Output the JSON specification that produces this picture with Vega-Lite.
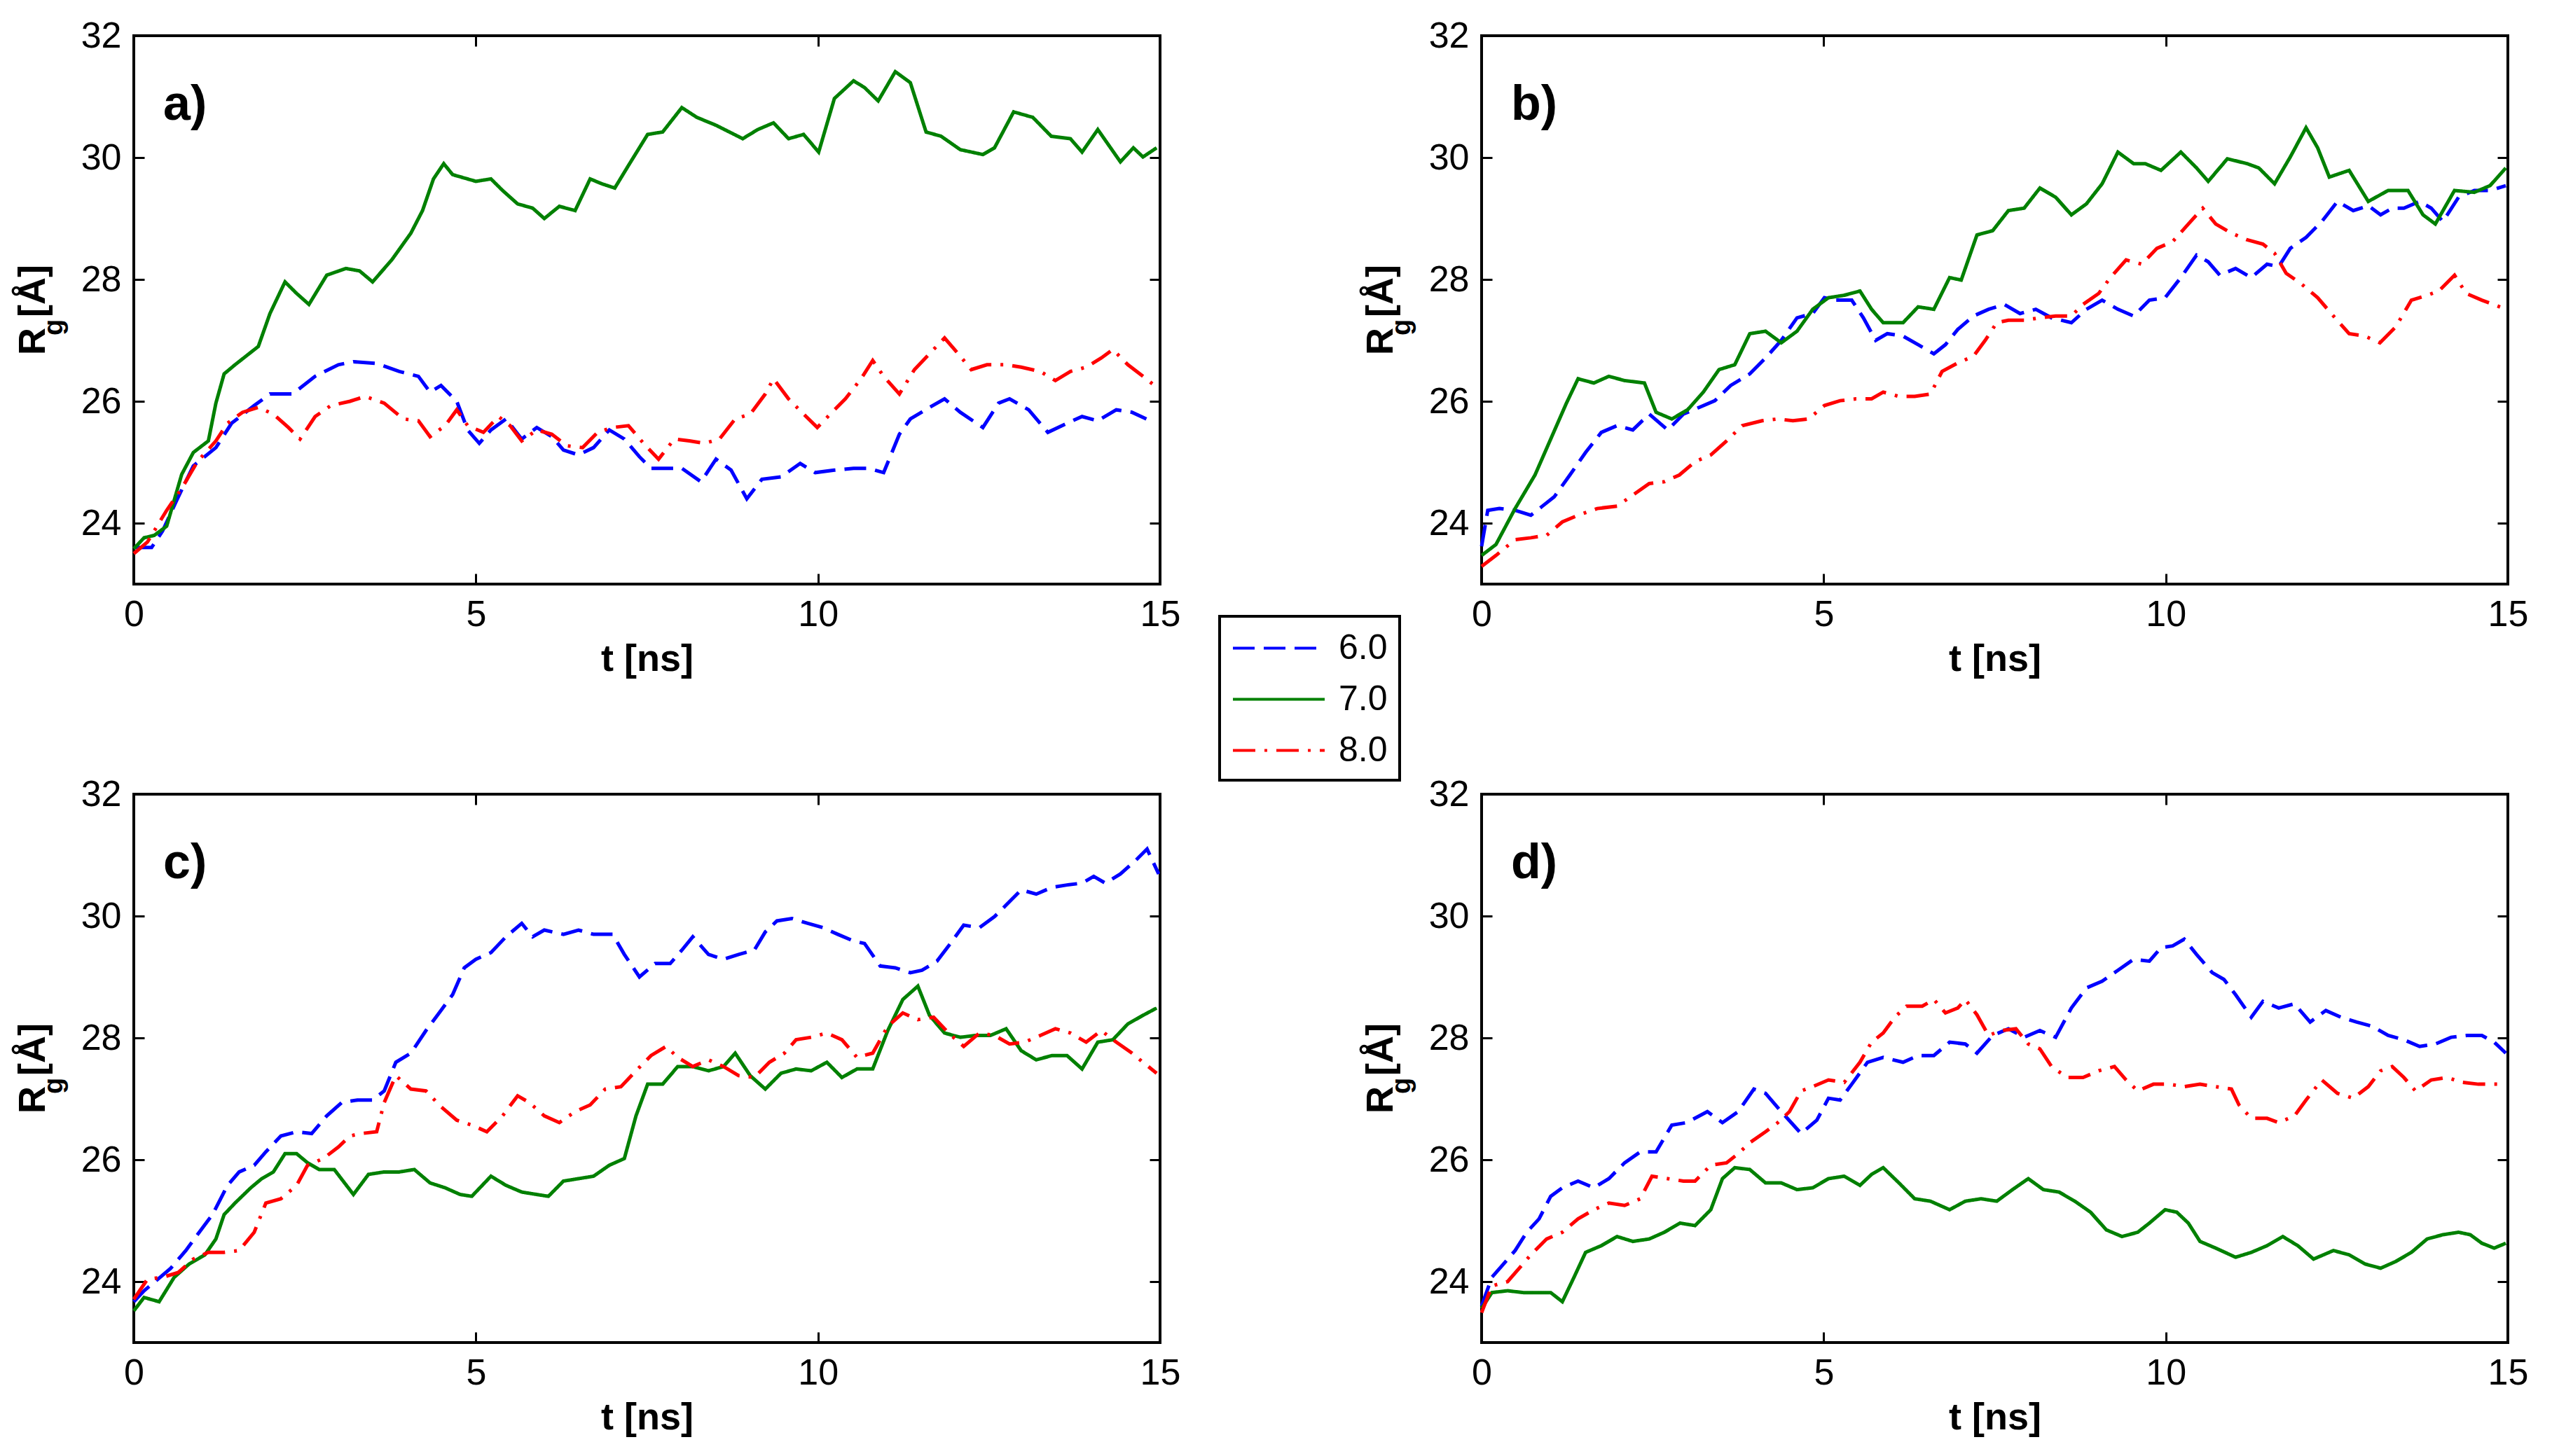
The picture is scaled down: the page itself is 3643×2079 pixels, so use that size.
{
  "$schema": "https://vega.github.io/schema/vega-lite/v6.json",
  "background": "white",
  "padding": {"left": 18, "top": 23, "right": 5, "bottom": 5},
  "data": {
    "values": [
      {"p":"a","s":"6.0","t":0,"r":23.6},{"p":"a","s":"6.0","t":0.26,"r":23.6},{"p":"a","s":"6.0","t":0.42,"r":23.87},{"p":"a","s":"6.0","t":0.65,"r":24.43},{"p":"a","s":"6.0","t":0.87,"r":24.94},{"p":"a","s":"6.0","t":1.2,"r":25.24},{"p":"a","s":"6.0","t":1.43,"r":25.64},{"p":"a","s":"6.0","t":1.76,"r":25.93},{"p":"a","s":"6.0","t":1.99,"r":26.12},{"p":"a","s":"6.0","t":2.32,"r":26.12},{"p":"a","s":"6.0","t":2.65,"r":26.41},{"p":"a","s":"6.0","t":2.99,"r":26.6},{"p":"a","s":"6.0","t":3.21,"r":26.65},{"p":"a","s":"6.0","t":3.55,"r":26.62},{"p":"a","s":"6.0","t":3.88,"r":26.49},{"p":"a","s":"6.0","t":4.16,"r":26.41},{"p":"a","s":"6.0","t":4.33,"r":26.15},{"p":"a","s":"6.0","t":4.49,"r":26.26},{"p":"a","s":"6.0","t":4.72,"r":26.0},{"p":"a","s":"6.0","t":4.88,"r":25.53},{"p":"a","s":"6.0","t":5.05,"r":25.31},{"p":"a","s":"6.0","t":5.22,"r":25.53},{"p":"a","s":"6.0","t":5.44,"r":25.71},{"p":"a","s":"6.0","t":5.67,"r":25.38},{"p":"a","s":"6.0","t":5.89,"r":25.57},{"p":"a","s":"6.0","t":6.11,"r":25.42},{"p":"a","s":"6.0","t":6.28,"r":25.2},{"p":"a","s":"6.0","t":6.5,"r":25.12},{"p":"a","s":"6.0","t":6.72,"r":25.24},{"p":"a","s":"6.0","t":6.95,"r":25.53},{"p":"a","s":"6.0","t":7.17,"r":25.38},{"p":"a","s":"6.0","t":7.39,"r":25.09},{"p":"a","s":"6.0","t":7.56,"r":24.9},{"p":"a","s":"6.0","t":7.78,"r":24.9},{"p":"a","s":"6.0","t":8.01,"r":24.9},{"p":"a","s":"6.0","t":8.29,"r":24.68},{"p":"a","s":"6.0","t":8.51,"r":25.05},{"p":"a","s":"6.0","t":8.73,"r":24.87},{"p":"a","s":"6.0","t":8.96,"r":24.4},{"p":"a","s":"6.0","t":9.18,"r":24.72},{"p":"a","s":"6.0","t":9.46,"r":24.76},{"p":"a","s":"6.0","t":9.74,"r":24.98},{"p":"a","s":"6.0","t":9.96,"r":24.83},{"p":"a","s":"6.0","t":10.24,"r":24.87},{"p":"a","s":"6.0","t":10.52,"r":24.9},{"p":"a","s":"6.0","t":10.74,"r":24.9},{"p":"a","s":"6.0","t":10.96,"r":24.83},{"p":"a","s":"6.0","t":11.19,"r":25.46},{"p":"a","s":"6.0","t":11.35,"r":25.71},{"p":"a","s":"6.0","t":11.63,"r":25.9},{"p":"a","s":"6.0","t":11.85,"r":26.04},{"p":"a","s":"6.0","t":12.08,"r":25.82},{"p":"a","s":"6.0","t":12.41,"r":25.57},{"p":"a","s":"6.0","t":12.64,"r":25.97},{"p":"a","s":"6.0","t":12.8,"r":26.04},{"p":"a","s":"6.0","t":13.08,"r":25.86},{"p":"a","s":"6.0","t":13.36,"r":25.49},{"p":"a","s":"6.0","t":13.64,"r":25.64},{"p":"a","s":"6.0","t":13.86,"r":25.75},{"p":"a","s":"6.0","t":14.09,"r":25.68},{"p":"a","s":"6.0","t":14.36,"r":25.86},{"p":"a","s":"6.0","t":14.59,"r":25.82},{"p":"a","s":"6.0","t":14.8,"r":25.71},

      {"p":"a","s":"7.0","t":0,"r":23.58},{"p":"a","s":"7.0","t":0.15,"r":23.76},{"p":"a","s":"7.0","t":0.3,"r":23.8},{"p":"a","s":"7.0","t":0.48,"r":23.95},{"p":"a","s":"7.0","t":0.7,"r":24.8},{"p":"a","s":"7.0","t":0.87,"r":25.16},{"p":"a","s":"7.0","t":1.09,"r":25.35},{"p":"a","s":"7.0","t":1.2,"r":25.97},{"p":"a","s":"7.0","t":1.32,"r":26.45},{"p":"a","s":"7.0","t":1.48,"r":26.6},{"p":"a","s":"7.0","t":1.82,"r":26.9},{"p":"a","s":"7.0","t":1.99,"r":27.44},{"p":"a","s":"7.0","t":2.21,"r":27.96},{"p":"a","s":"7.0","t":2.38,"r":27.77},{"p":"a","s":"7.0","t":2.56,"r":27.59},{"p":"a","s":"7.0","t":2.82,"r":28.07},{"p":"a","s":"7.0","t":3.1,"r":28.18},{"p":"a","s":"7.0","t":3.3,"r":28.14},{"p":"a","s":"7.0","t":3.49,"r":27.96},{"p":"a","s":"7.0","t":3.77,"r":28.32},{"p":"a","s":"7.0","t":4.05,"r":28.76},{"p":"a","s":"7.0","t":4.22,"r":29.13},{"p":"a","s":"7.0","t":4.38,"r":29.65},{"p":"a","s":"7.0","t":4.53,"r":29.9},{"p":"a","s":"7.0","t":4.66,"r":29.72},{"p":"a","s":"7.0","t":5.0,"r":29.61},{"p":"a","s":"7.0","t":5.22,"r":29.65},{"p":"a","s":"7.0","t":5.39,"r":29.46},{"p":"a","s":"7.0","t":5.61,"r":29.24},{"p":"a","s":"7.0","t":5.83,"r":29.17},{"p":"a","s":"7.0","t":6.0,"r":29.0},{"p":"a","s":"7.0","t":6.22,"r":29.2},{"p":"a","s":"7.0","t":6.45,"r":29.13},{"p":"a","s":"7.0","t":6.67,"r":29.65},{"p":"a","s":"7.0","t":6.84,"r":29.57},{"p":"a","s":"7.0","t":7.03,"r":29.5},{"p":"a","s":"7.0","t":7.23,"r":29.87},{"p":"a","s":"7.0","t":7.51,"r":30.38},{"p":"a","s":"7.0","t":7.73,"r":30.42},{"p":"a","s":"7.0","t":8.01,"r":30.82},{"p":"a","s":"7.0","t":8.23,"r":30.66},{"p":"a","s":"7.0","t":8.51,"r":30.53},{"p":"a","s":"7.0","t":8.9,"r":30.31},{"p":"a","s":"7.0","t":9.12,"r":30.46},{"p":"a","s":"7.0","t":9.35,"r":30.57},{"p":"a","s":"7.0","t":9.57,"r":30.31},{"p":"a","s":"7.0","t":9.79,"r":30.38},{"p":"a","s":"7.0","t":10.01,"r":30.09},{"p":"a","s":"7.0","t":10.24,"r":30.97},{"p":"a","s":"7.0","t":10.52,"r":31.26},{"p":"a","s":"7.0","t":10.68,"r":31.15},{"p":"a","s":"7.0","t":10.88,"r":30.93},{"p":"a","s":"7.0","t":11.13,"r":31.41},{"p":"a","s":"7.0","t":11.35,"r":31.23},{"p":"a","s":"7.0","t":11.58,"r":30.42},{"p":"a","s":"7.0","t":11.8,"r":30.35},{"p":"a","s":"7.0","t":12.08,"r":30.13},{"p":"a","s":"7.0","t":12.41,"r":30.05},{"p":"a","s":"7.0","t":12.58,"r":30.16},{"p":"a","s":"7.0","t":12.86,"r":30.75},{"p":"a","s":"7.0","t":13.14,"r":30.66},{"p":"a","s":"7.0","t":13.41,"r":30.35},{"p":"a","s":"7.0","t":13.69,"r":30.31},{"p":"a","s":"7.0","t":13.86,"r":30.09},{"p":"a","s":"7.0","t":14.09,"r":30.46},{"p":"a","s":"7.0","t":14.42,"r":29.93},{"p":"a","s":"7.0","t":14.61,"r":30.16},{"p":"a","s":"7.0","t":14.75,"r":30.01},{"p":"a","s":"7.0","t":14.95,"r":30.16},

      {"p":"a","s":"8.0","t":0,"r":23.5},{"p":"a","s":"8.0","t":0.2,"r":23.69},{"p":"a","s":"8.0","t":0.48,"r":24.21},{"p":"a","s":"8.0","t":0.7,"r":24.57},{"p":"a","s":"8.0","t":0.93,"r":25.01},{"p":"a","s":"8.0","t":1.2,"r":25.35},{"p":"a","s":"8.0","t":1.37,"r":25.64},{"p":"a","s":"8.0","t":1.59,"r":25.82},{"p":"a","s":"8.0","t":1.82,"r":25.9},{"p":"a","s":"8.0","t":2.04,"r":25.79},{"p":"a","s":"8.0","t":2.26,"r":25.57},{"p":"a","s":"8.0","t":2.43,"r":25.38},{"p":"a","s":"8.0","t":2.65,"r":25.75},{"p":"a","s":"8.0","t":2.88,"r":25.93},{"p":"a","s":"8.0","t":3.16,"r":26.0},{"p":"a","s":"8.0","t":3.38,"r":26.08},{"p":"a","s":"8.0","t":3.66,"r":25.97},{"p":"a","s":"8.0","t":3.94,"r":25.71},{"p":"a","s":"8.0","t":4.16,"r":25.68},{"p":"a","s":"8.0","t":4.33,"r":25.42},{"p":"a","s":"8.0","t":4.55,"r":25.6},{"p":"a","s":"8.0","t":4.72,"r":25.86},{"p":"a","s":"8.0","t":4.88,"r":25.6},{"p":"a","s":"8.0","t":5.11,"r":25.49},{"p":"a","s":"8.0","t":5.33,"r":25.75},{"p":"a","s":"8.0","t":5.5,"r":25.6},{"p":"a","s":"8.0","t":5.67,"r":25.35},{"p":"a","s":"8.0","t":5.89,"r":25.53},{"p":"a","s":"8.0","t":6.11,"r":25.46},{"p":"a","s":"8.0","t":6.33,"r":25.27},{"p":"a","s":"8.0","t":6.56,"r":25.24},{"p":"a","s":"8.0","t":6.78,"r":25.49},{"p":"a","s":"8.0","t":7.0,"r":25.57},{"p":"a","s":"8.0","t":7.23,"r":25.6},{"p":"a","s":"8.0","t":7.45,"r":25.31},{"p":"a","s":"8.0","t":7.67,"r":25.05},{"p":"a","s":"8.0","t":7.9,"r":25.38},{"p":"a","s":"8.0","t":8.12,"r":25.35},{"p":"a","s":"8.0","t":8.34,"r":25.31},{"p":"a","s":"8.0","t":8.56,"r":25.38},{"p":"a","s":"8.0","t":8.79,"r":25.71},{"p":"a","s":"8.0","t":9.01,"r":25.79},{"p":"a","s":"8.0","t":9.23,"r":26.12},{"p":"a","s":"8.0","t":9.35,"r":26.37},{"p":"a","s":"8.0","t":9.57,"r":26.04},{"p":"a","s":"8.0","t":9.79,"r":25.79},{"p":"a","s":"8.0","t":9.99,"r":25.57},{"p":"a","s":"8.0","t":10.18,"r":25.79},{"p":"a","s":"8.0","t":10.4,"r":26.04},{"p":"a","s":"8.0","t":10.63,"r":26.37},{"p":"a","s":"8.0","t":10.8,"r":26.67},{"p":"a","s":"8.0","t":10.96,"r":26.41},{"p":"a","s":"8.0","t":11.19,"r":26.12},{"p":"a","s":"8.0","t":11.41,"r":26.52},{"p":"a","s":"8.0","t":11.63,"r":26.78},{"p":"a","s":"8.0","t":11.85,"r":27.04},{"p":"a","s":"8.0","t":12.08,"r":26.74},{"p":"a","s":"8.0","t":12.24,"r":26.52},{"p":"a","s":"8.0","t":12.47,"r":26.6},{"p":"a","s":"8.0","t":12.75,"r":26.6},{"p":"a","s":"8.0","t":12.97,"r":26.56},{"p":"a","s":"8.0","t":13.25,"r":26.49},{"p":"a","s":"8.0","t":13.47,"r":26.34},{"p":"a","s":"8.0","t":13.69,"r":26.49},{"p":"a","s":"8.0","t":13.92,"r":26.56},{"p":"a","s":"8.0","t":14.14,"r":26.71},{"p":"a","s":"8.0","t":14.31,"r":26.85},{"p":"a","s":"8.0","t":14.53,"r":26.6},{"p":"a","s":"8.0","t":14.75,"r":26.41},{"p":"a","s":"8.0","t":14.95,"r":26.23},

      {"p":"b","s":"6.0","t":0,"r":23.62},{"p":"b","s":"6.0","t":0.09,"r":24.21},{"p":"b","s":"6.0","t":0.26,"r":24.24},{"p":"b","s":"6.0","t":0.49,"r":24.21},{"p":"b","s":"6.0","t":0.72,"r":24.13},{"p":"b","s":"6.0","t":0.89,"r":24.28},{"p":"b","s":"6.0","t":1.06,"r":24.43},{"p":"b","s":"6.0","t":1.29,"r":24.79},{"p":"b","s":"6.0","t":1.52,"r":25.16},{"p":"b","s":"6.0","t":1.75,"r":25.49},{"p":"b","s":"6.0","t":1.98,"r":25.6},{"p":"b","s":"6.0","t":2.21,"r":25.53},{"p":"b","s":"6.0","t":2.45,"r":25.79},{"p":"b","s":"6.0","t":2.72,"r":25.53},{"p":"b","s":"6.0","t":2.95,"r":25.79},{"p":"b","s":"6.0","t":3.18,"r":25.9},{"p":"b","s":"6.0","t":3.41,"r":26.01},{"p":"b","s":"6.0","t":3.64,"r":26.26},{"p":"b","s":"6.0","t":3.92,"r":26.45},{"p":"b","s":"6.0","t":4.15,"r":26.71},{"p":"b","s":"6.0","t":4.38,"r":27.0},{"p":"b","s":"6.0","t":4.61,"r":27.37},{"p":"b","s":"6.0","t":4.84,"r":27.44},{"p":"b","s":"6.0","t":5.01,"r":27.7},{"p":"b","s":"6.0","t":5.18,"r":27.66},{"p":"b","s":"6.0","t":5.41,"r":27.66},{"p":"b","s":"6.0","t":5.58,"r":27.37},{"p":"b","s":"6.0","t":5.76,"r":27.0},{"p":"b","s":"6.0","t":5.93,"r":27.11},{"p":"b","s":"6.0","t":6.16,"r":27.07},{"p":"b","s":"6.0","t":6.38,"r":26.93},{"p":"b","s":"6.0","t":6.61,"r":26.78},{"p":"b","s":"6.0","t":6.78,"r":26.93},{"p":"b","s":"6.0","t":6.96,"r":27.18},{"p":"b","s":"6.0","t":7.19,"r":27.4},{"p":"b","s":"6.0","t":7.41,"r":27.51},{"p":"b","s":"6.0","t":7.64,"r":27.59},{"p":"b","s":"6.0","t":7.87,"r":27.44},{"p":"b","s":"6.0","t":8.1,"r":27.51},{"p":"b","s":"6.0","t":8.33,"r":27.37},{"p":"b","s":"6.0","t":8.62,"r":27.29},{"p":"b","s":"6.0","t":8.84,"r":27.51},{"p":"b","s":"6.0","t":9.07,"r":27.66},{"p":"b","s":"6.0","t":9.3,"r":27.51},{"p":"b","s":"6.0","t":9.53,"r":27.4},{"p":"b","s":"6.0","t":9.76,"r":27.66},{"p":"b","s":"6.0","t":9.99,"r":27.7},{"p":"b","s":"6.0","t":10.22,"r":28.03},{"p":"b","s":"6.0","t":10.45,"r":28.4},{"p":"b","s":"6.0","t":10.62,"r":28.29},{"p":"b","s":"6.0","t":10.79,"r":28.07},{"p":"b","s":"6.0","t":11.02,"r":28.18},{"p":"b","s":"6.0","t":11.25,"r":28.03},{"p":"b","s":"6.0","t":11.48,"r":28.25},{"p":"b","s":"6.0","t":11.65,"r":28.21},{"p":"b","s":"6.0","t":11.82,"r":28.51},{"p":"b","s":"6.0","t":12.05,"r":28.69},{"p":"b","s":"6.0","t":12.28,"r":28.95},{"p":"b","s":"6.0","t":12.51,"r":29.28},{"p":"b","s":"6.0","t":12.74,"r":29.13},{"p":"b","s":"6.0","t":12.96,"r":29.21},{"p":"b","s":"6.0","t":13.14,"r":29.06},{"p":"b","s":"6.0","t":13.31,"r":29.17},{"p":"b","s":"6.0","t":13.48,"r":29.17},{"p":"b","s":"6.0","t":13.71,"r":29.28},{"p":"b","s":"6.0","t":13.88,"r":29.17},{"p":"b","s":"6.0","t":14.05,"r":28.95},{"p":"b","s":"6.0","t":14.28,"r":29.35},{"p":"b","s":"6.0","t":14.51,"r":29.46},{"p":"b","s":"6.0","t":14.74,"r":29.46},{"p":"b","s":"6.0","t":14.97,"r":29.54},

      {"p":"b","s":"7.0","t":0,"r":23.47},{"p":"b","s":"7.0","t":0.21,"r":23.65},{"p":"b","s":"7.0","t":0.49,"r":24.24},{"p":"b","s":"7.0","t":0.78,"r":24.79},{"p":"b","s":"7.0","t":1.01,"r":25.38},{"p":"b","s":"7.0","t":1.24,"r":25.97},{"p":"b","s":"7.0","t":1.41,"r":26.37},{"p":"b","s":"7.0","t":1.64,"r":26.3},{"p":"b","s":"7.0","t":1.86,"r":26.41},{"p":"b","s":"7.0","t":2.09,"r":26.34},{"p":"b","s":"7.0","t":2.38,"r":26.3},{"p":"b","s":"7.0","t":2.55,"r":25.82},{"p":"b","s":"7.0","t":2.78,"r":25.71},{"p":"b","s":"7.0","t":3.01,"r":25.86},{"p":"b","s":"7.0","t":3.24,"r":26.15},{"p":"b","s":"7.0","t":3.47,"r":26.52},{"p":"b","s":"7.0","t":3.7,"r":26.6},{"p":"b","s":"7.0","t":3.92,"r":27.11},{"p":"b","s":"7.0","t":4.15,"r":27.15},{"p":"b","s":"7.0","t":4.38,"r":26.96},{"p":"b","s":"7.0","t":4.61,"r":27.15},{"p":"b","s":"7.0","t":4.84,"r":27.51},{"p":"b","s":"7.0","t":5.07,"r":27.7},{"p":"b","s":"7.0","t":5.3,"r":27.74},{"p":"b","s":"7.0","t":5.53,"r":27.81},{"p":"b","s":"7.0","t":5.7,"r":27.51},{"p":"b","s":"7.0","t":5.87,"r":27.29},{"p":"b","s":"7.0","t":6.16,"r":27.29},{"p":"b","s":"7.0","t":6.38,"r":27.55},{"p":"b","s":"7.0","t":6.61,"r":27.51},{"p":"b","s":"7.0","t":6.84,"r":28.03},{"p":"b","s":"7.0","t":7.01,"r":27.99},{"p":"b","s":"7.0","t":7.24,"r":28.73},{"p":"b","s":"7.0","t":7.47,"r":28.8},{"p":"b","s":"7.0","t":7.7,"r":29.13},{"p":"b","s":"7.0","t":7.93,"r":29.17},{"p":"b","s":"7.0","t":8.16,"r":29.5},{"p":"b","s":"7.0","t":8.39,"r":29.35},{"p":"b","s":"7.0","t":8.62,"r":29.06},{"p":"b","s":"7.0","t":8.84,"r":29.24},{"p":"b","s":"7.0","t":9.07,"r":29.57},{"p":"b","s":"7.0","t":9.3,"r":30.09},{"p":"b","s":"7.0","t":9.53,"r":29.9},{"p":"b","s":"7.0","t":9.7,"r":29.9},{"p":"b","s":"7.0","t":9.93,"r":29.79},{"p":"b","s":"7.0","t":10.22,"r":30.09},{"p":"b","s":"7.0","t":10.45,"r":29.83},{"p":"b","s":"7.0","t":10.62,"r":29.61},{"p":"b","s":"7.0","t":10.9,"r":29.98},{"p":"b","s":"7.0","t":11.19,"r":29.9},{"p":"b","s":"7.0","t":11.36,"r":29.83},{"p":"b","s":"7.0","t":11.59,"r":29.57},{"p":"b","s":"7.0","t":11.82,"r":30.01},{"p":"b","s":"7.0","t":12.05,"r":30.49},{"p":"b","s":"7.0","t":12.22,"r":30.16},{"p":"b","s":"7.0","t":12.39,"r":29.68},{"p":"b","s":"7.0","t":12.68,"r":29.79},{"p":"b","s":"7.0","t":12.96,"r":29.28},{"p":"b","s":"7.0","t":13.25,"r":29.46},{"p":"b","s":"7.0","t":13.54,"r":29.46},{"p":"b","s":"7.0","t":13.76,"r":29.06},{"p":"b","s":"7.0","t":13.94,"r":28.91},{"p":"b","s":"7.0","t":14.22,"r":29.46},{"p":"b","s":"7.0","t":14.51,"r":29.43},{"p":"b","s":"7.0","t":14.74,"r":29.54},{"p":"b","s":"7.0","t":14.97,"r":29.83},

      {"p":"b","s":"8.0","t":0,"r":23.29},{"p":"b","s":"8.0","t":0.21,"r":23.47},{"p":"b","s":"8.0","t":0.49,"r":23.73},{"p":"b","s":"8.0","t":0.72,"r":23.76},{"p":"b","s":"8.0","t":0.95,"r":23.8},{"p":"b","s":"8.0","t":1.18,"r":24.02},{"p":"b","s":"8.0","t":1.41,"r":24.13},{"p":"b","s":"8.0","t":1.69,"r":24.24},{"p":"b","s":"8.0","t":1.98,"r":24.28},{"p":"b","s":"8.0","t":2.21,"r":24.46},{"p":"b","s":"8.0","t":2.45,"r":24.65},{"p":"b","s":"8.0","t":2.67,"r":24.68},{"p":"b","s":"8.0","t":2.89,"r":24.79},{"p":"b","s":"8.0","t":3.12,"r":25.01},{"p":"b","s":"8.0","t":3.35,"r":25.12},{"p":"b","s":"8.0","t":3.58,"r":25.35},{"p":"b","s":"8.0","t":3.81,"r":25.6},{"p":"b","s":"8.0","t":4.1,"r":25.68},{"p":"b","s":"8.0","t":4.33,"r":25.71},{"p":"b","s":"8.0","t":4.55,"r":25.68},{"p":"b","s":"8.0","t":4.78,"r":25.71},{"p":"b","s":"8.0","t":5.01,"r":25.93},{"p":"b","s":"8.0","t":5.24,"r":26.01},{"p":"b","s":"8.0","t":5.47,"r":26.04},{"p":"b","s":"8.0","t":5.7,"r":26.04},{"p":"b","s":"8.0","t":5.87,"r":26.15},{"p":"b","s":"8.0","t":6.1,"r":26.08},{"p":"b","s":"8.0","t":6.33,"r":26.08},{"p":"b","s":"8.0","t":6.56,"r":26.12},{"p":"b","s":"8.0","t":6.73,"r":26.49},{"p":"b","s":"8.0","t":6.96,"r":26.63},{"p":"b","s":"8.0","t":7.19,"r":26.74},{"p":"b","s":"8.0","t":7.36,"r":27.0},{"p":"b","s":"8.0","t":7.53,"r":27.29},{"p":"b","s":"8.0","t":7.7,"r":27.33},{"p":"b","s":"8.0","t":7.93,"r":27.33},{"p":"b","s":"8.0","t":8.16,"r":27.37},{"p":"b","s":"8.0","t":8.39,"r":27.4},{"p":"b","s":"8.0","t":8.62,"r":27.4},{"p":"b","s":"8.0","t":8.79,"r":27.59},{"p":"b","s":"8.0","t":9.02,"r":27.77},{"p":"b","s":"8.0","t":9.19,"r":28.03},{"p":"b","s":"8.0","t":9.42,"r":28.32},{"p":"b","s":"8.0","t":9.65,"r":28.25},{"p":"b","s":"8.0","t":9.87,"r":28.51},{"p":"b","s":"8.0","t":10.1,"r":28.62},{"p":"b","s":"8.0","t":10.33,"r":28.91},{"p":"b","s":"8.0","t":10.54,"r":29.17},{"p":"b","s":"8.0","t":10.73,"r":28.91},{"p":"b","s":"8.0","t":10.96,"r":28.76},{"p":"b","s":"8.0","t":11.19,"r":28.65},{"p":"b","s":"8.0","t":11.42,"r":28.58},{"p":"b","s":"8.0","t":11.59,"r":28.43},{"p":"b","s":"8.0","t":11.76,"r":28.1},{"p":"b","s":"8.0","t":11.99,"r":27.92},{"p":"b","s":"8.0","t":12.22,"r":27.7},{"p":"b","s":"8.0","t":12.45,"r":27.4},{"p":"b","s":"8.0","t":12.68,"r":27.11},{"p":"b","s":"8.0","t":12.91,"r":27.07},{"p":"b","s":"8.0","t":13.13,"r":26.96},{"p":"b","s":"8.0","t":13.36,"r":27.22},{"p":"b","s":"8.0","t":13.59,"r":27.66},{"p":"b","s":"8.0","t":13.82,"r":27.74},{"p":"b","s":"8.0","t":13.99,"r":27.81},{"p":"b","s":"8.0","t":14.22,"r":28.07},{"p":"b","s":"8.0","t":14.39,"r":27.77},{"p":"b","s":"8.0","t":14.62,"r":27.66},{"p":"b","s":"8.0","t":14.79,"r":27.59},{"p":"b","s":"8.0","t":14.97,"r":27.51},

      {"p":"c","s":"6.0","t":0,"r":23.67},{"p":"c","s":"6.0","t":0.15,"r":23.85},{"p":"c","s":"6.0","t":0.31,"r":24.0},{"p":"c","s":"6.0","t":0.54,"r":24.22},{"p":"c","s":"6.0","t":0.76,"r":24.51},{"p":"c","s":"6.0","t":0.93,"r":24.77},{"p":"c","s":"6.0","t":1.15,"r":25.1},{"p":"c","s":"6.0","t":1.37,"r":25.58},{"p":"c","s":"6.0","t":1.54,"r":25.8},{"p":"c","s":"6.0","t":1.76,"r":25.91},{"p":"c","s":"6.0","t":1.93,"r":26.13},{"p":"c","s":"6.0","t":2.15,"r":26.39},{"p":"c","s":"6.0","t":2.38,"r":26.46},{"p":"c","s":"6.0","t":2.6,"r":26.43},{"p":"c","s":"6.0","t":2.82,"r":26.72},{"p":"c","s":"6.0","t":3.04,"r":26.94},{"p":"c","s":"6.0","t":3.27,"r":26.98},{"p":"c","s":"6.0","t":3.49,"r":26.98},{"p":"c","s":"6.0","t":3.66,"r":27.13},{"p":"c","s":"6.0","t":3.83,"r":27.6},{"p":"c","s":"6.0","t":4.05,"r":27.75},{"p":"c","s":"6.0","t":4.27,"r":28.12},{"p":"c","s":"6.0","t":4.49,"r":28.45},{"p":"c","s":"6.0","t":4.66,"r":28.71},{"p":"c","s":"6.0","t":4.83,"r":29.15},{"p":"c","s":"6.0","t":5.0,"r":29.29},{"p":"c","s":"6.0","t":5.22,"r":29.4},{"p":"c","s":"6.0","t":5.44,"r":29.66},{"p":"c","s":"6.0","t":5.67,"r":29.88},{"p":"c","s":"6.0","t":5.83,"r":29.66},{"p":"c","s":"6.0","t":6.0,"r":29.77},{"p":"c","s":"6.0","t":6.28,"r":29.7},{"p":"c","s":"6.0","t":6.5,"r":29.77},{"p":"c","s":"6.0","t":6.72,"r":29.7},{"p":"c","s":"6.0","t":7.0,"r":29.7},{"p":"c","s":"6.0","t":7.17,"r":29.37},{"p":"c","s":"6.0","t":7.39,"r":29.0},{"p":"c","s":"6.0","t":7.62,"r":29.22},{"p":"c","s":"6.0","t":7.84,"r":29.22},{"p":"c","s":"6.0","t":8.01,"r":29.44},{"p":"c","s":"6.0","t":8.17,"r":29.66},{"p":"c","s":"6.0","t":8.4,"r":29.37},{"p":"c","s":"6.0","t":8.62,"r":29.29},{"p":"c","s":"6.0","t":8.84,"r":29.37},{"p":"c","s":"6.0","t":9.07,"r":29.44},{"p":"c","s":"6.0","t":9.23,"r":29.74},{"p":"c","s":"6.0","t":9.4,"r":29.92},{"p":"c","s":"6.0","t":9.62,"r":29.96},{"p":"c","s":"6.0","t":9.85,"r":29.88},{"p":"c","s":"6.0","t":10.07,"r":29.81},{"p":"c","s":"6.0","t":10.29,"r":29.7},{"p":"c","s":"6.0","t":10.52,"r":29.59},{"p":"c","s":"6.0","t":10.68,"r":29.55},{"p":"c","s":"6.0","t":10.91,"r":29.18},{"p":"c","s":"6.0","t":11.13,"r":29.15},{"p":"c","s":"6.0","t":11.35,"r":29.07},{"p":"c","s":"6.0","t":11.52,"r":29.11},{"p":"c","s":"6.0","t":11.74,"r":29.26},{"p":"c","s":"6.0","t":11.91,"r":29.51},{"p":"c","s":"6.0","t":12.13,"r":29.85},{"p":"c","s":"6.0","t":12.36,"r":29.81},{"p":"c","s":"6.0","t":12.58,"r":29.99},{"p":"c","s":"6.0","t":12.75,"r":30.18},{"p":"c","s":"6.0","t":12.97,"r":30.43},{"p":"c","s":"6.0","t":13.19,"r":30.36},{"p":"c","s":"6.0","t":13.42,"r":30.47},{"p":"c","s":"6.0","t":13.64,"r":30.51},{"p":"c","s":"6.0","t":13.86,"r":30.54},{"p":"c","s":"6.0","t":14.03,"r":30.65},{"p":"c","s":"6.0","t":14.2,"r":30.54},{"p":"c","s":"6.0","t":14.42,"r":30.69},{"p":"c","s":"6.0","t":14.64,"r":30.91},{"p":"c","s":"6.0","t":14.81,"r":31.1},{"p":"c","s":"6.0","t":14.98,"r":30.69},

      {"p":"c","s":"7.0","t":0,"r":23.52},{"p":"c","s":"7.0","t":0.15,"r":23.74},{"p":"c","s":"7.0","t":0.37,"r":23.67},{"p":"c","s":"7.0","t":0.59,"r":24.07},{"p":"c","s":"7.0","t":0.81,"r":24.29},{"p":"c","s":"7.0","t":1.04,"r":24.44},{"p":"c","s":"7.0","t":1.2,"r":24.7},{"p":"c","s":"7.0","t":1.32,"r":25.1},{"p":"c","s":"7.0","t":1.48,"r":25.29},{"p":"c","s":"7.0","t":1.71,"r":25.54},{"p":"c","s":"7.0","t":1.87,"r":25.69},{"p":"c","s":"7.0","t":2.04,"r":25.8},{"p":"c","s":"7.0","t":2.21,"r":26.1},{"p":"c","s":"7.0","t":2.38,"r":26.1},{"p":"c","s":"7.0","t":2.54,"r":25.95},{"p":"c","s":"7.0","t":2.71,"r":25.84},{"p":"c","s":"7.0","t":2.93,"r":25.84},{"p":"c","s":"7.0","t":3.21,"r":25.43},{"p":"c","s":"7.0","t":3.43,"r":25.76},{"p":"c","s":"7.0","t":3.66,"r":25.8},{"p":"c","s":"7.0","t":3.88,"r":25.8},{"p":"c","s":"7.0","t":4.1,"r":25.84},{"p":"c","s":"7.0","t":4.33,"r":25.62},{"p":"c","s":"7.0","t":4.55,"r":25.54},{"p":"c","s":"7.0","t":4.77,"r":25.43},{"p":"c","s":"7.0","t":4.94,"r":25.4},{"p":"c","s":"7.0","t":5.22,"r":25.73},{"p":"c","s":"7.0","t":5.44,"r":25.58},{"p":"c","s":"7.0","t":5.67,"r":25.47},{"p":"c","s":"7.0","t":5.89,"r":25.43},{"p":"c","s":"7.0","t":6.06,"r":25.4},{"p":"c","s":"7.0","t":6.28,"r":25.65},{"p":"c","s":"7.0","t":6.5,"r":25.69},{"p":"c","s":"7.0","t":6.72,"r":25.73},{"p":"c","s":"7.0","t":6.95,"r":25.91},{"p":"c","s":"7.0","t":7.17,"r":26.02},{"p":"c","s":"7.0","t":7.34,"r":26.72},{"p":"c","s":"7.0","t":7.51,"r":27.24},{"p":"c","s":"7.0","t":7.73,"r":27.24},{"p":"c","s":"7.0","t":7.95,"r":27.53},{"p":"c","s":"7.0","t":8.17,"r":27.53},{"p":"c","s":"7.0","t":8.4,"r":27.46},{"p":"c","s":"7.0","t":8.62,"r":27.53},{"p":"c","s":"7.0","t":8.79,"r":27.75},{"p":"c","s":"7.0","t":9.01,"r":27.38},{"p":"c","s":"7.0","t":9.23,"r":27.16},{"p":"c","s":"7.0","t":9.46,"r":27.42},{"p":"c","s":"7.0","t":9.68,"r":27.49},{"p":"c","s":"7.0","t":9.9,"r":27.46},{"p":"c","s":"7.0","t":10.13,"r":27.6},{"p":"c","s":"7.0","t":10.35,"r":27.35},{"p":"c","s":"7.0","t":10.57,"r":27.49},{"p":"c","s":"7.0","t":10.8,"r":27.49},{"p":"c","s":"7.0","t":11.02,"r":28.12},{"p":"c","s":"7.0","t":11.24,"r":28.63},{"p":"c","s":"7.0","t":11.46,"r":28.85},{"p":"c","s":"7.0","t":11.63,"r":28.37},{"p":"c","s":"7.0","t":11.85,"r":28.08},{"p":"c","s":"7.0","t":12.08,"r":28.01},{"p":"c","s":"7.0","t":12.3,"r":28.04},{"p":"c","s":"7.0","t":12.52,"r":28.04},{"p":"c","s":"7.0","t":12.75,"r":28.15},{"p":"c","s":"7.0","t":12.97,"r":27.79},{"p":"c","s":"7.0","t":13.19,"r":27.64},{"p":"c","s":"7.0","t":13.42,"r":27.71},{"p":"c","s":"7.0","t":13.64,"r":27.71},{"p":"c","s":"7.0","t":13.86,"r":27.49},{"p":"c","s":"7.0","t":14.09,"r":27.93},{"p":"c","s":"7.0","t":14.31,"r":27.97},{"p":"c","s":"7.0","t":14.53,"r":28.23},{"p":"c","s":"7.0","t":14.75,"r":28.37},{"p":"c","s":"7.0","t":14.95,"r":28.49},

      {"p":"c","s":"8.0","t":0,"r":23.71},{"p":"c","s":"8.0","t":0.2,"r":24.04},{"p":"c","s":"8.0","t":0.42,"r":24.07},{"p":"c","s":"8.0","t":0.65,"r":24.15},{"p":"c","s":"8.0","t":0.87,"r":24.37},{"p":"c","s":"8.0","t":1.09,"r":24.48},{"p":"c","s":"8.0","t":1.32,"r":24.48},{"p":"c","s":"8.0","t":1.54,"r":24.51},{"p":"c","s":"8.0","t":1.76,"r":24.81},{"p":"c","s":"8.0","t":1.93,"r":25.29},{"p":"c","s":"8.0","t":2.15,"r":25.36},{"p":"c","s":"8.0","t":2.38,"r":25.58},{"p":"c","s":"8.0","t":2.54,"r":25.91},{"p":"c","s":"8.0","t":2.77,"r":26.02},{"p":"c","s":"8.0","t":2.99,"r":26.21},{"p":"c","s":"8.0","t":3.16,"r":26.39},{"p":"c","s":"8.0","t":3.32,"r":26.43},{"p":"c","s":"8.0","t":3.55,"r":26.46},{"p":"c","s":"8.0","t":3.66,"r":26.94},{"p":"c","s":"8.0","t":3.83,"r":27.38},{"p":"c","s":"8.0","t":4.05,"r":27.16},{"p":"c","s":"8.0","t":4.27,"r":27.13},{"p":"c","s":"8.0","t":4.49,"r":26.87},{"p":"c","s":"8.0","t":4.72,"r":26.65},{"p":"c","s":"8.0","t":4.94,"r":26.57},{"p":"c","s":"8.0","t":5.16,"r":26.46},{"p":"c","s":"8.0","t":5.39,"r":26.72},{"p":"c","s":"8.0","t":5.61,"r":27.05},{"p":"c","s":"8.0","t":5.78,"r":26.94},{"p":"c","s":"8.0","t":6.0,"r":26.72},{"p":"c","s":"8.0","t":6.22,"r":26.61},{"p":"c","s":"8.0","t":6.45,"r":26.79},{"p":"c","s":"8.0","t":6.67,"r":26.9},{"p":"c","s":"8.0","t":6.89,"r":27.16},{"p":"c","s":"8.0","t":7.12,"r":27.2},{"p":"c","s":"8.0","t":7.34,"r":27.46},{"p":"c","s":"8.0","t":7.56,"r":27.71},{"p":"c","s":"8.0","t":7.78,"r":27.86},{"p":"c","s":"8.0","t":7.95,"r":27.68},{"p":"c","s":"8.0","t":8.17,"r":27.53},{"p":"c","s":"8.0","t":8.4,"r":27.64},{"p":"c","s":"8.0","t":8.62,"r":27.53},{"p":"c","s":"8.0","t":8.84,"r":27.38},{"p":"c","s":"8.0","t":9.07,"r":27.35},{"p":"c","s":"8.0","t":9.29,"r":27.6},{"p":"c","s":"8.0","t":9.51,"r":27.75},{"p":"c","s":"8.0","t":9.68,"r":27.97},{"p":"c","s":"8.0","t":9.9,"r":28.01},{"p":"c","s":"8.0","t":10.13,"r":28.08},{"p":"c","s":"8.0","t":10.35,"r":27.97},{"p":"c","s":"8.0","t":10.57,"r":27.68},{"p":"c","s":"8.0","t":10.8,"r":27.75},{"p":"c","s":"8.0","t":11.02,"r":28.19},{"p":"c","s":"8.0","t":11.24,"r":28.41},{"p":"c","s":"8.0","t":11.46,"r":28.3},{"p":"c","s":"8.0","t":11.69,"r":28.34},{"p":"c","s":"8.0","t":11.91,"r":28.08},{"p":"c","s":"8.0","t":12.13,"r":27.86},{"p":"c","s":"8.0","t":12.36,"r":28.08},{"p":"c","s":"8.0","t":12.58,"r":28.04},{"p":"c","s":"8.0","t":12.8,"r":27.9},{"p":"c","s":"8.0","t":13.02,"r":27.93},{"p":"c","s":"8.0","t":13.25,"r":28.04},{"p":"c","s":"8.0","t":13.47,"r":28.15},{"p":"c","s":"8.0","t":13.69,"r":28.08},{"p":"c","s":"8.0","t":13.92,"r":27.93},{"p":"c","s":"8.0","t":14.14,"r":28.12},{"p":"c","s":"8.0","t":14.36,"r":27.93},{"p":"c","s":"8.0","t":14.59,"r":27.75},{"p":"c","s":"8.0","t":14.75,"r":27.6},{"p":"c","s":"8.0","t":14.95,"r":27.42},

      {"p":"d","s":"6.0","t":0,"r":23.6},{"p":"d","s":"6.0","t":0.15,"r":24.07},{"p":"d","s":"6.0","t":0.32,"r":24.29},{"p":"d","s":"6.0","t":0.49,"r":24.51},{"p":"d","s":"6.0","t":0.66,"r":24.81},{"p":"d","s":"6.0","t":0.84,"r":25.03},{"p":"d","s":"6.0","t":1.01,"r":25.4},{"p":"d","s":"6.0","t":1.18,"r":25.54},{"p":"d","s":"6.0","t":1.41,"r":25.65},{"p":"d","s":"6.0","t":1.64,"r":25.54},{"p":"d","s":"6.0","t":1.86,"r":25.69},{"p":"d","s":"6.0","t":2.09,"r":25.95},{"p":"d","s":"6.0","t":2.32,"r":26.13},{"p":"d","s":"6.0","t":2.55,"r":26.13},{"p":"d","s":"6.0","t":2.78,"r":26.57},{"p":"d","s":"6.0","t":3.0,"r":26.61},{"p":"d","s":"6.0","t":3.3,"r":26.79},{"p":"d","s":"6.0","t":3.52,"r":26.61},{"p":"d","s":"6.0","t":3.75,"r":26.79},{"p":"d","s":"6.0","t":3.98,"r":27.16},{"p":"d","s":"6.0","t":4.15,"r":27.09},{"p":"d","s":"6.0","t":4.38,"r":26.79},{"p":"d","s":"6.0","t":4.67,"r":26.43},{"p":"d","s":"6.0","t":4.9,"r":26.65},{"p":"d","s":"6.0","t":5.07,"r":27.01},{"p":"d","s":"6.0","t":5.24,"r":26.98},{"p":"d","s":"6.0","t":5.41,"r":27.24},{"p":"d","s":"6.0","t":5.64,"r":27.6},{"p":"d","s":"6.0","t":5.87,"r":27.68},{"p":"d","s":"6.0","t":6.16,"r":27.6},{"p":"d","s":"6.0","t":6.38,"r":27.71},{"p":"d","s":"6.0","t":6.61,"r":27.71},{"p":"d","s":"6.0","t":6.84,"r":27.93},{"p":"d","s":"6.0","t":7.07,"r":27.9},{"p":"d","s":"6.0","t":7.24,"r":27.75},{"p":"d","s":"6.0","t":7.47,"r":28.04},{"p":"d","s":"6.0","t":7.7,"r":28.15},{"p":"d","s":"6.0","t":7.93,"r":28.01},{"p":"d","s":"6.0","t":8.16,"r":28.12},{"p":"d","s":"6.0","t":8.39,"r":28.01},{"p":"d","s":"6.0","t":8.62,"r":28.49},{"p":"d","s":"6.0","t":8.84,"r":28.82},{"p":"d","s":"6.0","t":9.07,"r":28.93},{"p":"d","s":"6.0","t":9.3,"r":29.11},{"p":"d","s":"6.0","t":9.53,"r":29.29},{"p":"d","s":"6.0","t":9.76,"r":29.26},{"p":"d","s":"6.0","t":9.93,"r":29.48},{"p":"d","s":"6.0","t":10.1,"r":29.51},{"p":"d","s":"6.0","t":10.27,"r":29.62},{"p":"d","s":"6.0","t":10.45,"r":29.37},{"p":"d","s":"6.0","t":10.68,"r":29.07},{"p":"d","s":"6.0","t":10.85,"r":28.96},{"p":"d","s":"6.0","t":11.02,"r":28.71},{"p":"d","s":"6.0","t":11.25,"r":28.34},{"p":"d","s":"6.0","t":11.42,"r":28.6},{"p":"d","s":"6.0","t":11.65,"r":28.49},{"p":"d","s":"6.0","t":11.88,"r":28.56},{"p":"d","s":"6.0","t":12.11,"r":28.26},{"p":"d","s":"6.0","t":12.34,"r":28.45},{"p":"d","s":"6.0","t":12.56,"r":28.34},{"p":"d","s":"6.0","t":12.79,"r":28.26},{"p":"d","s":"6.0","t":13.02,"r":28.19},{"p":"d","s":"6.0","t":13.25,"r":28.04},{"p":"d","s":"6.0","t":13.48,"r":27.97},{"p":"d","s":"6.0","t":13.71,"r":27.86},{"p":"d","s":"6.0","t":13.94,"r":27.9},{"p":"d","s":"6.0","t":14.17,"r":28.01},{"p":"d","s":"6.0","t":14.4,"r":28.04},{"p":"d","s":"6.0","t":14.62,"r":28.04},{"p":"d","s":"6.0","t":14.8,"r":27.93},{"p":"d","s":"6.0","t":14.97,"r":27.75},

      {"p":"d","s":"7.0","t":0,"r":23.56},{"p":"d","s":"7.0","t":0.15,"r":23.82},{"p":"d","s":"7.0","t":0.38,"r":23.85},{"p":"d","s":"7.0","t":0.61,"r":23.82},{"p":"d","s":"7.0","t":0.84,"r":23.82},{"p":"d","s":"7.0","t":1.01,"r":23.82},{"p":"d","s":"7.0","t":1.18,"r":23.67},{"p":"d","s":"7.0","t":1.35,"r":24.07},{"p":"d","s":"7.0","t":1.52,"r":24.48},{"p":"d","s":"7.0","t":1.75,"r":24.59},{"p":"d","s":"7.0","t":1.98,"r":24.74},{"p":"d","s":"7.0","t":2.21,"r":24.66},{"p":"d","s":"7.0","t":2.45,"r":24.7},{"p":"d","s":"7.0","t":2.67,"r":24.81},{"p":"d","s":"7.0","t":2.9,"r":24.96},{"p":"d","s":"7.0","t":3.12,"r":24.92},{"p":"d","s":"7.0","t":3.35,"r":25.18},{"p":"d","s":"7.0","t":3.52,"r":25.69},{"p":"d","s":"7.0","t":3.7,"r":25.87},{"p":"d","s":"7.0","t":3.92,"r":25.84},{"p":"d","s":"7.0","t":4.15,"r":25.62},{"p":"d","s":"7.0","t":4.38,"r":25.62},{"p":"d","s":"7.0","t":4.61,"r":25.51},{"p":"d","s":"7.0","t":4.84,"r":25.54},{"p":"d","s":"7.0","t":5.07,"r":25.69},{"p":"d","s":"7.0","t":5.3,"r":25.73},{"p":"d","s":"7.0","t":5.53,"r":25.58},{"p":"d","s":"7.0","t":5.7,"r":25.76},{"p":"d","s":"7.0","t":5.87,"r":25.87},{"p":"d","s":"7.0","t":6.1,"r":25.62},{"p":"d","s":"7.0","t":6.33,"r":25.36},{"p":"d","s":"7.0","t":6.56,"r":25.32},{"p":"d","s":"7.0","t":6.84,"r":25.18},{"p":"d","s":"7.0","t":7.07,"r":25.32},{"p":"d","s":"7.0","t":7.3,"r":25.36},{"p":"d","s":"7.0","t":7.53,"r":25.32},{"p":"d","s":"7.0","t":7.76,"r":25.51},{"p":"d","s":"7.0","t":7.99,"r":25.69},{"p":"d","s":"7.0","t":8.21,"r":25.51},{"p":"d","s":"7.0","t":8.44,"r":25.47},{"p":"d","s":"7.0","t":8.67,"r":25.32},{"p":"d","s":"7.0","t":8.9,"r":25.14},{"p":"d","s":"7.0","t":9.13,"r":24.85},{"p":"d","s":"7.0","t":9.36,"r":24.74},{"p":"d","s":"7.0","t":9.59,"r":24.81},{"p":"d","s":"7.0","t":9.76,"r":24.96},{"p":"d","s":"7.0","t":9.99,"r":25.18},{"p":"d","s":"7.0","t":10.16,"r":25.14},{"p":"d","s":"7.0","t":10.33,"r":24.96},{"p":"d","s":"7.0","t":10.5,"r":24.66},{"p":"d","s":"7.0","t":10.73,"r":24.55},{"p":"d","s":"7.0","t":11.02,"r":24.4},{"p":"d","s":"7.0","t":11.25,"r":24.48},{"p":"d","s":"7.0","t":11.48,"r":24.59},{"p":"d","s":"7.0","t":11.71,"r":24.74},{"p":"d","s":"7.0","t":11.93,"r":24.59},{"p":"d","s":"7.0","t":12.16,"r":24.37},{"p":"d","s":"7.0","t":12.45,"r":24.51},{"p":"d","s":"7.0","t":12.68,"r":24.44},{"p":"d","s":"7.0","t":12.91,"r":24.29},{"p":"d","s":"7.0","t":13.14,"r":24.22},{"p":"d","s":"7.0","t":13.36,"r":24.33},{"p":"d","s":"7.0","t":13.59,"r":24.48},{"p":"d","s":"7.0","t":13.82,"r":24.7},{"p":"d","s":"7.0","t":14.05,"r":24.77},{"p":"d","s":"7.0","t":14.28,"r":24.81},{"p":"d","s":"7.0","t":14.45,"r":24.77},{"p":"d","s":"7.0","t":14.62,"r":24.63},{"p":"d","s":"7.0","t":14.8,"r":24.55},{"p":"d","s":"7.0","t":14.97,"r":24.63},

      {"p":"d","s":"8.0","t":0,"r":23.49},{"p":"d","s":"8.0","t":0.15,"r":23.93},{"p":"d","s":"8.0","t":0.38,"r":24.0},{"p":"d","s":"8.0","t":0.55,"r":24.22},{"p":"d","s":"8.0","t":0.72,"r":24.44},{"p":"d","s":"8.0","t":0.95,"r":24.7},{"p":"d","s":"8.0","t":1.18,"r":24.81},{"p":"d","s":"8.0","t":1.41,"r":25.03},{"p":"d","s":"8.0","t":1.64,"r":25.18},{"p":"d","s":"8.0","t":1.86,"r":25.29},{"p":"d","s":"8.0","t":2.09,"r":25.25},{"p":"d","s":"8.0","t":2.32,"r":25.36},{"p":"d","s":"8.0","t":2.49,"r":25.73},{"p":"d","s":"8.0","t":2.72,"r":25.69},{"p":"d","s":"8.0","t":2.95,"r":25.65},{"p":"d","s":"8.0","t":3.12,"r":25.65},{"p":"d","s":"8.0","t":3.35,"r":25.91},{"p":"d","s":"8.0","t":3.58,"r":25.95},{"p":"d","s":"8.0","t":3.75,"r":26.1},{"p":"d","s":"8.0","t":3.92,"r":26.28},{"p":"d","s":"8.0","t":4.15,"r":26.46},{"p":"d","s":"8.0","t":4.33,"r":26.61},{"p":"d","s":"8.0","t":4.5,"r":26.79},{"p":"d","s":"8.0","t":4.67,"r":27.13},{"p":"d","s":"8.0","t":4.84,"r":27.2},{"p":"d","s":"8.0","t":5.07,"r":27.31},{"p":"d","s":"8.0","t":5.3,"r":27.27},{"p":"d","s":"8.0","t":5.53,"r":27.6},{"p":"d","s":"8.0","t":5.7,"r":27.93},{"p":"d","s":"8.0","t":5.87,"r":28.08},{"p":"d","s":"8.0","t":6.04,"r":28.34},{"p":"d","s":"8.0","t":6.21,"r":28.52},{"p":"d","s":"8.0","t":6.44,"r":28.52},{"p":"d","s":"8.0","t":6.61,"r":28.63},{"p":"d","s":"8.0","t":6.78,"r":28.41},{"p":"d","s":"8.0","t":6.96,"r":28.49},{"p":"d","s":"8.0","t":7.07,"r":28.63},{"p":"d","s":"8.0","t":7.24,"r":28.38},{"p":"d","s":"8.0","t":7.41,"r":28.04},{"p":"d","s":"8.0","t":7.59,"r":28.12},{"p":"d","s":"8.0","t":7.81,"r":28.15},{"p":"d","s":"8.0","t":7.99,"r":27.9},{"p":"d","s":"8.0","t":8.16,"r":27.82},{"p":"d","s":"8.0","t":8.33,"r":27.53},{"p":"d","s":"8.0","t":8.56,"r":27.35},{"p":"d","s":"8.0","t":8.79,"r":27.35},{"p":"d","s":"8.0","t":9.02,"r":27.46},{"p":"d","s":"8.0","t":9.25,"r":27.53},{"p":"d","s":"8.0","t":9.42,"r":27.31},{"p":"d","s":"8.0","t":9.59,"r":27.13},{"p":"d","s":"8.0","t":9.82,"r":27.24},{"p":"d","s":"8.0","t":10.05,"r":27.24},{"p":"d","s":"8.0","t":10.27,"r":27.2},{"p":"d","s":"8.0","t":10.5,"r":27.24},{"p":"d","s":"8.0","t":10.73,"r":27.2},{"p":"d","s":"8.0","t":10.96,"r":27.16},{"p":"d","s":"8.0","t":11.07,"r":26.9},{"p":"d","s":"8.0","t":11.25,"r":26.68},{"p":"d","s":"8.0","t":11.48,"r":26.68},{"p":"d","s":"8.0","t":11.65,"r":26.61},{"p":"d","s":"8.0","t":11.88,"r":26.72},{"p":"d","s":"8.0","t":12.05,"r":26.98},{"p":"d","s":"8.0","t":12.28,"r":27.31},{"p":"d","s":"8.0","t":12.51,"r":27.09},{"p":"d","s":"8.0","t":12.74,"r":27.01},{"p":"d","s":"8.0","t":12.96,"r":27.2},{"p":"d","s":"8.0","t":13.14,"r":27.46},{"p":"d","s":"8.0","t":13.31,"r":27.53},{"p":"d","s":"8.0","t":13.48,"r":27.35},{"p":"d","s":"8.0","t":13.65,"r":27.13},{"p":"d","s":"8.0","t":13.88,"r":27.31},{"p":"d","s":"8.0","t":14.11,"r":27.35},{"p":"d","s":"8.0","t":14.34,"r":27.27},{"p":"d","s":"8.0","t":14.57,"r":27.24},{"p":"d","s":"8.0","t":14.8,"r":27.24},{"p":"d","s":"8.0","t":14.97,"r":27.24}
    ]
  },
  "columns": 2,
  "bounds": "flush",
  "spacing": {"row": 300, "column": 459},
  "concat": [
    {
      "width": 1465, "height": 783,
      "title": {"text": "a)"},
      "transform": [{"filter": "datum.p === 'a'"}],
      "layer": [
        {
          "mark": {"type": "line", "strokeWidth": 5},
          "encoding": {
            "x": {"field": "t", "type": "quantitative", "scale": {"domain": [0, 15], "nice": false}, "axis": {"orient": "bottom", "values": [0, 5, 10, 15], "labelFlush": false, "title": "t [ns]", "titleY": 123, "titleBaseline": "alphabetic"}},
            "y": {"field": "r", "type": "quantitative", "scale": {"domain": [23, 32], "nice": false, "zero": false}, "axis": {"orient": "left", "values": [24, 26, 28, 30, 32], "title": "R   [Å]", "titleX": -128, "titleY": 391, "titleBaseline": "alphabetic", "titleAngle": -90}},
            "color": {"field": "s", "type": "nominal", "scale": {"domain": ["6.0", "7.0", "8.0"], "range": ["#0000ff", "#008000", "#ff0000"]}, "legend": {"orient": "none", "legendX": 1550, "legendY": 829, "title": null}},
            "strokeDash": {"field": "s", "type": "nominal", "scale": {"domain": ["6.0", "7.0", "8.0"], "range": [[31, 13], [1, 0], [32, 13, 4, 13]]}, "legend": {"orient": "none", "legendX": 1550, "legendY": 829, "title": null}}
          }
        },
        {
          "mark": {"type": "line", "opacity": 0},
          "encoding": {
            "x": {"field": "t", "type": "quantitative", "scale": {"domain": [0, 15], "nice": false}, "axis": {"orient": "top", "values": [0, 5, 10, 15], "labels": false, "title": null}},
            "y": {"field": "r", "type": "quantitative", "scale": {"domain": [23, 32], "nice": false, "zero": false}, "axis": {"orient": "right", "values": [24, 26, 28, 30, 32], "labels": false, "title": null}},
            "detail": {"field": "s"}
          }
        },
        {
          "mark": {"type": "line", "opacity": 0},
          "encoding": {
            "x": {"field": "t", "type": "quantitative", "scale": {"domain": [0, 15], "nice": false}, "axis": null},
            "y": {"field": "r", "type": "quantitative", "scale": {"domain": [23, 32], "nice": false, "zero": false}, "axis": {"orient": "left", "ticks": false, "labels": false, "title": "g", "titleX": -103, "titleY": 416, "titleBaseline": "alphabetic", "titleAngle": -90, "titleFontSize": 38}},
            "detail": {"field": "s"}
          }
        }
      ],
      "resolve": {"axis": {"x": "independent", "y": "independent"}}
    },
    {
      "width": 1465, "height": 783,
      "title": {"text": "b)"},
      "transform": [{"filter": "datum.p === 'b'"}],
      "layer": [
        {
          "mark": {"type": "line", "strokeWidth": 5},
          "encoding": {
            "x": {"field": "t", "type": "quantitative", "scale": {"domain": [0, 15], "nice": false}, "axis": {"orient": "bottom", "values": [0, 5, 10, 15], "labelFlush": false, "title": "t [ns]", "titleY": 123, "titleBaseline": "alphabetic"}},
            "y": {"field": "r", "type": "quantitative", "scale": {"domain": [23, 32], "nice": false, "zero": false}, "axis": {"orient": "left", "values": [24, 26, 28, 30, 32], "title": "R   [Å]", "titleX": -128, "titleY": 391, "titleBaseline": "alphabetic", "titleAngle": -90}},
            "color": {"field": "s", "type": "nominal", "scale": {"domain": ["6.0", "7.0", "8.0"], "range": ["#0000ff", "#008000", "#ff0000"]}, "legend": {"orient": "none", "legendX": 1550, "legendY": 829, "title": null}},
            "strokeDash": {"field": "s", "type": "nominal", "scale": {"domain": ["6.0", "7.0", "8.0"], "range": [[31, 13], [1, 0], [32, 13, 4, 13]]}, "legend": {"orient": "none", "legendX": 1550, "legendY": 829, "title": null}}
          }
        },
        {
          "mark": {"type": "line", "opacity": 0},
          "encoding": {
            "x": {"field": "t", "type": "quantitative", "scale": {"domain": [0, 15], "nice": false}, "axis": {"orient": "top", "values": [0, 5, 10, 15], "labels": false, "title": null}},
            "y": {"field": "r", "type": "quantitative", "scale": {"domain": [23, 32], "nice": false, "zero": false}, "axis": {"orient": "right", "values": [24, 26, 28, 30, 32], "labels": false, "title": null}},
            "detail": {"field": "s"}
          }
        },
        {
          "mark": {"type": "line", "opacity": 0},
          "encoding": {
            "x": {"field": "t", "type": "quantitative", "scale": {"domain": [0, 15], "nice": false}, "axis": null},
            "y": {"field": "r", "type": "quantitative", "scale": {"domain": [23, 32], "nice": false, "zero": false}, "axis": {"orient": "left", "ticks": false, "labels": false, "title": "g", "titleX": -103, "titleY": 416, "titleBaseline": "alphabetic", "titleAngle": -90, "titleFontSize": 38}},
            "detail": {"field": "s"}
          }
        }
      ],
      "resolve": {"axis": {"x": "independent", "y": "independent"}}
    },
    {
      "width": 1465, "height": 783,
      "title": {"text": "c)"},
      "transform": [{"filter": "datum.p === 'c'"}],
      "layer": [
        {
          "mark": {"type": "line", "strokeWidth": 5},
          "encoding": {
            "x": {"field": "t", "type": "quantitative", "scale": {"domain": [0, 15], "nice": false}, "axis": {"orient": "bottom", "values": [0, 5, 10, 15], "labelFlush": false, "title": "t [ns]", "titleY": 123, "titleBaseline": "alphabetic"}},
            "y": {"field": "r", "type": "quantitative", "scale": {"domain": [23, 32], "nice": false, "zero": false}, "axis": {"orient": "left", "values": [24, 26, 28, 30, 32], "title": "R   [Å]", "titleX": -128, "titleY": 391, "titleBaseline": "alphabetic", "titleAngle": -90}},
            "color": {"field": "s", "type": "nominal", "scale": {"domain": ["6.0", "7.0", "8.0"], "range": ["#0000ff", "#008000", "#ff0000"]}, "legend": {"orient": "none", "legendX": 1550, "legendY": 829, "title": null}},
            "strokeDash": {"field": "s", "type": "nominal", "scale": {"domain": ["6.0", "7.0", "8.0"], "range": [[31, 13], [1, 0], [32, 13, 4, 13]]}, "legend": {"orient": "none", "legendX": 1550, "legendY": 829, "title": null}}
          }
        },
        {
          "mark": {"type": "line", "opacity": 0},
          "encoding": {
            "x": {"field": "t", "type": "quantitative", "scale": {"domain": [0, 15], "nice": false}, "axis": {"orient": "top", "values": [0, 5, 10, 15], "labels": false, "title": null}},
            "y": {"field": "r", "type": "quantitative", "scale": {"domain": [23, 32], "nice": false, "zero": false}, "axis": {"orient": "right", "values": [24, 26, 28, 30, 32], "labels": false, "title": null}},
            "detail": {"field": "s"}
          }
        },
        {
          "mark": {"type": "line", "opacity": 0},
          "encoding": {
            "x": {"field": "t", "type": "quantitative", "scale": {"domain": [0, 15], "nice": false}, "axis": null},
            "y": {"field": "r", "type": "quantitative", "scale": {"domain": [23, 32], "nice": false, "zero": false}, "axis": {"orient": "left", "ticks": false, "labels": false, "title": "g", "titleX": -103, "titleY": 416, "titleBaseline": "alphabetic", "titleAngle": -90, "titleFontSize": 38}},
            "detail": {"field": "s"}
          }
        }
      ],
      "resolve": {"axis": {"x": "independent", "y": "independent"}}
    },
    {
      "width": 1465, "height": 783,
      "title": {"text": "d)"},
      "transform": [{"filter": "datum.p === 'd'"}],
      "layer": [
        {
          "mark": {"type": "line", "strokeWidth": 5},
          "encoding": {
            "x": {"field": "t", "type": "quantitative", "scale": {"domain": [0, 15], "nice": false}, "axis": {"orient": "bottom", "values": [0, 5, 10, 15], "labelFlush": false, "title": "t [ns]", "titleY": 123, "titleBaseline": "alphabetic"}},
            "y": {"field": "r", "type": "quantitative", "scale": {"domain": [23, 32], "nice": false, "zero": false}, "axis": {"orient": "left", "values": [24, 26, 28, 30, 32], "title": "R   [Å]", "titleX": -128, "titleY": 391, "titleBaseline": "alphabetic", "titleAngle": -90}},
            "color": {"field": "s", "type": "nominal", "scale": {"domain": ["6.0", "7.0", "8.0"], "range": ["#0000ff", "#008000", "#ff0000"]}, "legend": {"orient": "none", "legendX": 1550, "legendY": 829, "title": null}},
            "strokeDash": {"field": "s", "type": "nominal", "scale": {"domain": ["6.0", "7.0", "8.0"], "range": [[31, 13], [1, 0], [32, 13, 4, 13]]}, "legend": {"orient": "none", "legendX": 1550, "legendY": 829, "title": null}}
          }
        },
        {
          "mark": {"type": "line", "opacity": 0},
          "encoding": {
            "x": {"field": "t", "type": "quantitative", "scale": {"domain": [0, 15], "nice": false}, "axis": {"orient": "top", "values": [0, 5, 10, 15], "labels": false, "title": null}},
            "y": {"field": "r", "type": "quantitative", "scale": {"domain": [23, 32], "nice": false, "zero": false}, "axis": {"orient": "right", "values": [24, 26, 28, 30, 32], "labels": false, "title": null}},
            "detail": {"field": "s"}
          }
        },
        {
          "mark": {"type": "line", "opacity": 0},
          "encoding": {
            "x": {"field": "t", "type": "quantitative", "scale": {"domain": [0, 15], "nice": false}, "axis": null},
            "y": {"field": "r", "type": "quantitative", "scale": {"domain": [23, 32], "nice": false, "zero": false}, "axis": {"orient": "left", "ticks": false, "labels": false, "title": "g", "titleX": -103, "titleY": 416, "titleBaseline": "alphabetic", "titleAngle": -90, "titleFontSize": 38}},
            "detail": {"field": "s"}
          }
        }
      ],
      "resolve": {"axis": {"x": "independent", "y": "independent"}}
    }
  ],
  "config": {
    "view": {"stroke": "black", "strokeWidth": 4},
    "axis": {
      "labelFont": "Liberation Sans",
      "labelFontSize": 52,
      "labelColor": "black",
      "labelPadding": 33,
      "tickSize": -15,
      "tickColor": "black",
      "tickWidth": 3,
      "domain": false,
      "grid": false,
      "titleFont": "Liberation Sans",
      "titleFontSize": 54,
      "titleFontWeight": "bold",
      "titleColor": "black"
    },
    "title": {
      "font": "Liberation Sans",
      "fontSize": 70,
      "fontWeight": "bold",
      "color": "black",
      "anchor": "start",
      "frame": "group",
      "offset": -161,
      "dx": 42,
      "baseline": "alphabetic"
    },
    "legend": {
      "symbolType": "M-2.5,0H2.5",
      "symbolSize": 2746,
      "symbolOffset": 39,
      "symbolStrokeWidth": 4,
      "labelFont": "Liberation Sans",
      "labelFontSize": 50,
      "labelColor": "black",
      "labelOffset": 57,
      "strokeColor": "black",
      "strokeWidth": 4,
      "fillColor": "white",
      "padding": 17,
      "rowPadding": 19
    }
  }
}
